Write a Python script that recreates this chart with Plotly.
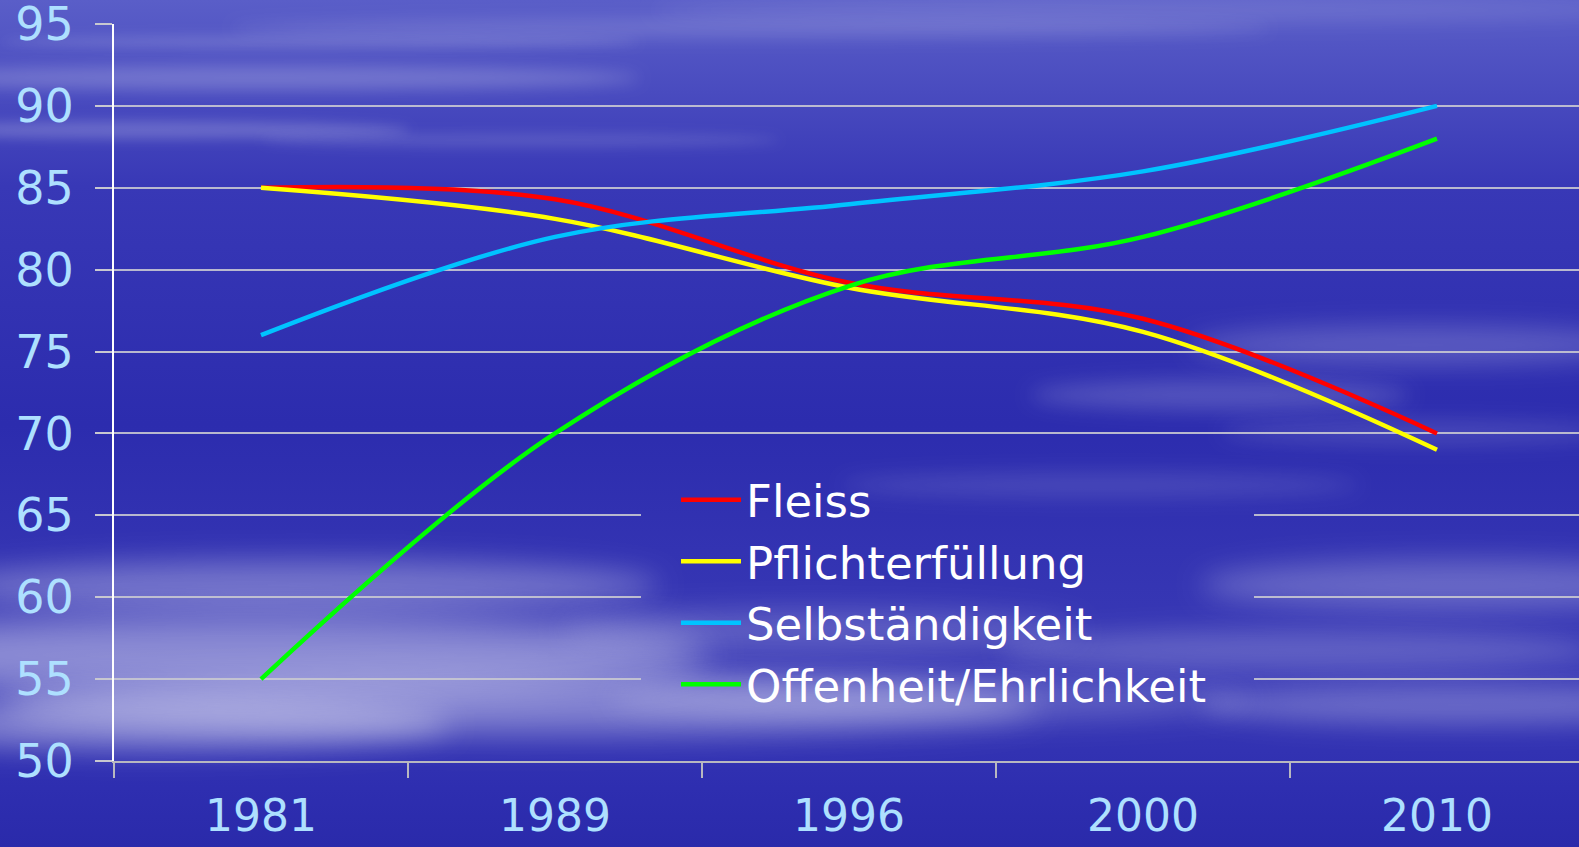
import base64
import plotly.graph_objects as go

# ---------------- data ----------------
years = ["1981", "1989", "1996", "2000", "2010"]
fleiss = [85, 84.3, 79.2, 77.0, 70]
pflicht = [85, 83.1, 78.9, 76.2, 69]
selbst = [76, 82.0, 84.0, 86.0, 90]
offen = [55, 70.0, 79.0, 82.0, 88]
series_names = ["Fleiss", "Pflichterfüllung", "Selbständigkeit", "Offenheit/Ehrlichkeit"]
series_colors = ["#ff0000", "#ffff00", "#00c3ff", "#00ff00"]
y_ticks = [50, 55, 60, 65, 70, 75, 80, 85, 90, 95]

W, H = 1579, 847
ML, MR, MT, MB = 114, 0, 24, 86
PW, PH = W - ML - MR, H - MT - MB

# ---------------- background (sky with clouds) ----------------
clouds = [
    (260, 78, 380, 12, .22, 8), (750, 28, 520, 10, .14, 8), (1150, 10, 500, 12, .12, 10),
    (150, 130, 260, 9, .20, 6), (520, 140, 260, 7, .12, 6), (320, 42, 320, 7, .14, 6),
    (1420, 345, 230, 20, .20, 12), (1220, 395, 190, 15, .18, 10), (1420, 432, 200, 12, .13, 10),
    (1100, 485, 260, 12, .12, 10),
    (300, 585, 360, 25, .30, 14), (250, 655, 460, 40, .42, 18), (520, 705, 520, 30, .36, 16),
    (150, 725, 300, 25, .35, 14), (820, 630, 260, 20, .20, 14), (930, 700, 320, 20, .20, 14),
    (1460, 585, 260, 25, .25, 14), (1300, 650, 300, 20, .20, 12), (1460, 705, 260, 20, .25, 12),
]


def bg_svg(vx, vy, vw, vh):
    ell = "".join(
        f'<ellipse cx="{cx}" cy="{cy}" rx="{rx}" ry="{ry}" fill="#ffffff" fill-opacity="{op}" '
        f'filter="url(#b{bl})"/>' for cx, cy, rx, ry, op, bl in clouds)
    blurs = sorted({c[5] for c in clouds})
    filt = "".join(
        f'<filter id="b{b}" filterUnits="userSpaceOnUse" x="-400" y="-400" width="2400" height="1700">'
        f'<feGaussianBlur stdDeviation="{b}"/></filter>' for b in blurs)
    svg = (
        f'<svg xmlns="http://www.w3.org/2000/svg" width="{vw}" height="{vh}" '
        f'viewBox="{vx} {vy} {vw} {vh}" preserveAspectRatio="none">'
        f'<defs><linearGradient id="g" gradientUnits="userSpaceOnUse" x1="0" y1="0" x2="0" y2="{H}">'
        f'<stop offset="0" stop-color="#5a5ec8"/><stop offset="0.22" stop-color="#3838b6"/>'
        f'<stop offset="0.5" stop-color="#2c2cae"/><stop offset="0.8" stop-color="#3a3ab6"/>'
        f'<stop offset="0.93" stop-color="#2e2eb0"/><stop offset="1" stop-color="#2a2aaa"/>'
        f'</linearGradient>{filt}</defs>'
        f'<rect x="-10" y="-10" width="{W + 20}" height="{H + 20}" fill="url(#g)"/>{ell}</svg>')
    return "data:image/svg+xml;base64," + base64.b64encode(svg.encode()).decode()


# legend patch (hides gridlines behind legend, like the original)
LX0, LX1, LY0, LY1 = 641, 1254, 455, 715

fig = go.Figure()
for name, vals, col in zip(series_names, [fleiss, pflicht, selbst, offen], series_colors):
    fig.add_trace(go.Scatter(
        x=list(range(len(years))), y=vals, name=name, mode="lines",
        line=dict(color=col, width=4.5, shape="spline", smoothing=1.0),
        hoverinfo="skip"))

fig.update_layout(
    width=W, height=H,
    margin=dict(l=ML, r=MR, t=MT, b=MB, pad=0, autoexpand=False),
    paper_bgcolor="#2f2fb0", plot_bgcolor="rgba(0,0,0,0)",
    showlegend=True,
    legend=dict(
        x=(LX0 + 35 - ML) / PW, y=(MT + PH - (LY0 + 9)) / PH,
        xanchor="left", yanchor="top",
        bgcolor="rgba(0,0,0,0)", borderwidth=0,
        font=dict(family="DejaVu Sans", size=45, color="#ffffff"),
        itemwidth=60,
    ),
    images=[
        dict(source=bg_svg(0, 0, W, H), xref="paper", yref="paper",
             x=-ML / PW, y=1 + MT / PH, sizex=W / PW, sizey=H / PH,
             sizing="stretch", layer="below", xanchor="left", yanchor="top"),
        dict(source=bg_svg(LX0, LY0, LX1 - LX0, LY1 - LY0), xref="paper", yref="paper",
             x=(LX0 - ML) / PW, y=(MT + PH - LY0) / PH, sizex=(LX1 - LX0) / PW,
             sizey=(LY1 - LY0) / PH, sizing="stretch", layer="above",
             xanchor="left", yanchor="top"),
    ],
    xaxis=dict(
        range=[-0.5, -0.5 + PW / 294.0], tickmode="array",
        tickvals=list(range(len(years))), ticktext=years, ticks="",
        tickfont=dict(family="DejaVu Sans", size=44, color="#aee0ff"),
        ticklabelstandoff=15, ticklabeloverflow="allow", automargin=False,
        showline=True, linecolor="#b8b8c0", linewidth=2,
        showgrid=False, zeroline=False, fixedrange=True,
        minor=dict(tickmode="array", tickvals=[i - 0.5 for i in range(len(years) + 1)],
                   ticks="outside", ticklen=15, tickwidth=2, tickcolor="#b8b8c0", showgrid=False),
    ),
    yaxis=dict(
        range=[50, 95], tickmode="array", tickvals=y_ticks,
        ticks="outside", ticklen=17, tickwidth=2, tickcolor="#c8c8d0",
        tickfont=dict(family="DejaVu Sans", size=46, color="#aee0ff"),
        ticklabelstandoff=12, ticklabeloverflow="allow", automargin=False,
        showline=True, linecolor="#ffffff", linewidth=2,
        showgrid=True, gridcolor="rgba(200,200,210,0.9)", gridwidth=1.5,
        zeroline=False, fixedrange=True,
    ),
)

fig.write_html("out.html", config={"displayModeBar": False},
               post_script="document.body.style.margin='0';document.body.style.overflow='hidden';")
